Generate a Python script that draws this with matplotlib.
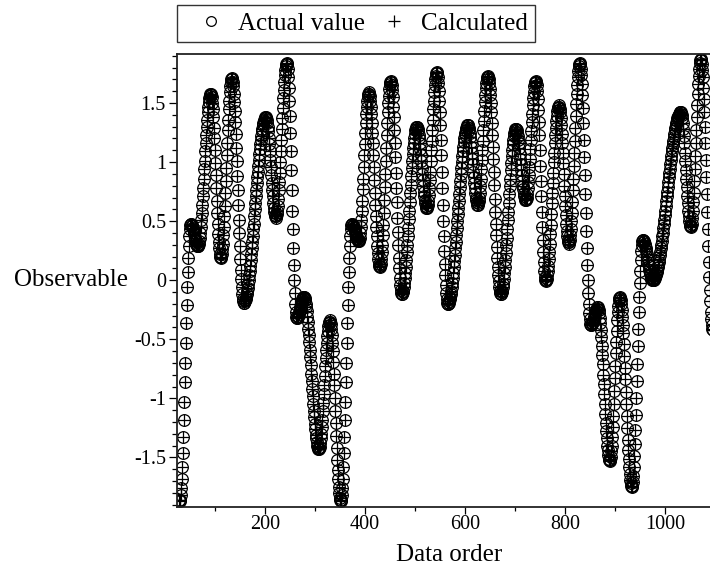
#!/usr/bin/env python3
"""Actual vs calculated observable over the data order (Maple-style scatter)."""
import numpy as np
import matplotlib

matplotlib.use("Agg")
import matplotlib.pyplot as plt
from matplotlib.lines import Line2D
from matplotlib.ticker import MultipleLocator, FuncFormatter

# data order of the first sample; samples follow one per order step
FIRST_ORDER = 28

# observable, one value per data order (28 .. 1095)
actual_value = [
    -1.86, -1.87,
    -1.86, -1.82, -1.76, -1.68, -1.58, -1.46, -1.33, -1.18, -1.03, -0.86, -0.70,
    -0.53, -0.36, -0.21, -0.06, 0.07, 0.19, 0.29, 0.37, 0.43, 0.47, 0.48,
    0.48, 0.47, 0.46, 0.44, 0.43, 0.41, 0.39, 0.36, 0.34, 0.33, 0.31, 0.30, 0.29, 0.29,
    0.29, 0.31, 0.33, 0.36, 0.40, 0.45, 0.51, 0.57, 0.64, 0.71, 0.78, 0.86, 0.94,
    1.01, 1.09, 1.16, 1.23, 1.30, 1.36, 1.42, 1.47, 1.51, 1.54, 1.56, 1.58, 1.58,
    1.57, 1.55, 1.50, 1.45, 1.38, 1.29, 1.20, 1.10, 0.99, 0.89,
    0.78, 0.67, 0.57, 0.48, 0.39, 0.32, 0.27, 0.22, 0.20, 0.19,
    0.20, 0.22, 0.26, 0.31, 0.38, 0.45, 0.54, 0.63, 0.74, 0.84, 0.95,
    1.06, 1.16, 1.27, 1.36, 1.45, 1.52, 1.59, 1.64, 1.68, 1.70, 1.71,
    1.70, 1.68, 1.64, 1.58, 1.51, 1.43, 1.34, 1.24, 1.12, 1.01, 0.88, 0.76,
    0.64, 0.51, 0.40, 0.29, 0.18, 0.09, 0.01, -0.06, -0.12, -0.16, -0.18, -0.19,
    -0.19, -0.18, -0.17, -0.16, -0.14, -0.12, -0.09, -0.07, -0.03, 0.00, 0.04,
    0.08, 0.12, 0.17, 0.22, 0.27, 0.32, 0.37, 0.43, 0.48, 0.54, 0.60,
    0.65, 0.71, 0.76, 0.82, 0.87, 0.92, 0.97, 1.02, 1.07, 1.11, 1.15,
    1.19, 1.22, 1.26, 1.28, 1.31, 1.33, 1.35, 1.36, 1.37, 1.38, 1.38,
    1.37, 1.36, 1.33, 1.30, 1.26, 1.20, 1.15, 1.09, 1.02, 0.96,
    0.89, 0.82, 0.76, 0.71, 0.65, 0.61, 0.58, 0.55, 0.54, 0.53,
    0.54, 0.56, 0.59, 0.63, 0.69, 0.76, 0.83, 0.91, 1.00, 1.09, 1.19,
    1.28, 1.37, 1.46, 1.54, 1.61, 1.68, 1.74, 1.78, 1.81, 1.83, 1.84,
    1.83, 1.79, 1.72, 1.63, 1.52, 1.39, 1.25, 1.09, 0.93, 0.76,
    0.59, 0.43, 0.27, 0.13, 0.00, -0.11, -0.20, -0.27, -0.31, -0.32,
    -0.32, -0.31, -0.30, -0.29, -0.27, -0.25, -0.23, -0.21, -0.19, -0.17, -0.16, -0.15, -0.14, -0.14,
    -0.14, -0.15, -0.17, -0.20, -0.23, -0.26, -0.31, -0.35, -0.41, -0.46,
    -0.52, -0.59, -0.65, -0.72, -0.79, -0.85, -0.92, -0.98, -1.05, -1.11,
    -1.16, -1.22, -1.26, -1.31, -1.34, -1.37, -1.40, -1.42, -1.43, -1.43,
    -1.42, -1.41, -1.38, -1.34, -1.30, -1.24, -1.18, -1.11, -1.04, -0.96, -0.89,
    -0.81, -0.73, -0.66, -0.59, -0.53, -0.47, -0.43, -0.39, -0.36, -0.35, -0.34,
    -0.35, -0.37, -0.41, -0.46, -0.53, -0.60, -0.69, -0.79, -0.89, -1.00, -1.11,
    -1.21, -1.32, -1.42, -1.52, -1.61, -1.68, -1.75, -1.80, -1.84, -1.86, -1.87,
    -1.86, -1.82, -1.76, -1.68, -1.58, -1.46, -1.33, -1.18, -1.03, -0.86, -0.70,
    -0.53, -0.36, -0.21, -0.06, 0.07, 0.19, 0.29, 0.37, 0.43, 0.47, 0.48,
    0.48, 0.47, 0.46, 0.45, 0.44, 0.42, 0.41, 0.39, 0.37, 0.36, 0.35, 0.34, 0.33, 0.33,
    0.34, 0.36, 0.40, 0.45, 0.51, 0.59, 0.67, 0.77, 0.86, 0.96,
    1.06, 1.15, 1.25, 1.33, 1.41, 1.47, 1.52, 1.56, 1.58, 1.59,
    1.58, 1.56, 1.52, 1.47, 1.41, 1.33, 1.25, 1.16, 1.06, 0.96, 0.85,
    0.74, 0.64, 0.54, 0.45, 0.37, 0.29, 0.23, 0.18, 0.14, 0.12, 0.11,
    0.12, 0.14, 0.18, 0.24, 0.30, 0.38, 0.47, 0.57, 0.68, 0.79, 0.90,
    1.01, 1.12, 1.23, 1.33, 1.42, 1.50, 1.56, 1.62, 1.66, 1.68, 1.69,
    1.68, 1.65, 1.61, 1.55, 1.47, 1.38, 1.27, 1.16, 1.04, 0.91, 0.78,
    0.66, 0.53, 0.41, 0.30, 0.19, 0.10, 0.02, -0.04, -0.08, -0.11, -0.12,
    -0.12, -0.10, -0.09, -0.06, -0.02, 0.02, 0.06, 0.11, 0.17, 0.24,
    0.30, 0.37, 0.44, 0.52, 0.59, 0.66, 0.74, 0.81, 0.88, 0.95,
    1.01, 1.07, 1.12, 1.16, 1.20, 1.24, 1.27, 1.28, 1.30, 1.30,
    1.30, 1.28, 1.26, 1.23, 1.20, 1.16, 1.11, 1.06, 1.01, 0.95,
    0.90, 0.85, 0.80, 0.75, 0.71, 0.68, 0.65, 0.63, 0.61, 0.61,
    0.62, 0.64, 0.67, 0.72, 0.78, 0.85, 0.92, 1.01, 1.10, 1.18,
    1.27, 1.36, 1.45, 1.52, 1.59, 1.65, 1.70, 1.73, 1.75, 1.76,
    1.75, 1.72, 1.67, 1.60, 1.52, 1.42, 1.31, 1.19, 1.06, 0.92, 0.78,
    0.64, 0.50, 0.37, 0.25, 0.14, 0.04, -0.04, -0.11, -0.16, -0.19, -0.20,
    -0.20, -0.19, -0.18, -0.16, -0.14, -0.12, -0.09, -0.06, -0.02, 0.02,
    0.06, 0.11, 0.16, 0.21, 0.27, 0.32, 0.38, 0.44, 0.50, 0.56,
    0.61, 0.67, 0.73, 0.79, 0.84, 0.90, 0.95, 1.00, 1.05, 1.09,
    1.13, 1.17, 1.20, 1.23, 1.25, 1.27, 1.29, 1.30, 1.31, 1.31,
    1.31, 1.29, 1.27, 1.25, 1.21, 1.17, 1.13, 1.08, 1.03, 0.98,
    0.92, 0.87, 0.82, 0.78, 0.74, 0.70, 0.68, 0.66, 0.64, 0.64,
    0.65, 0.67, 0.70, 0.74, 0.80, 0.86, 0.94, 1.02, 1.10, 1.18,
    1.27, 1.35, 1.43, 1.51, 1.57, 1.63, 1.67, 1.70, 1.72, 1.73,
    1.72, 1.70, 1.67, 1.62, 1.57, 1.50, 1.42, 1.33, 1.23, 1.13, 1.03, 0.92, 0.81,
    0.69, 0.58, 0.48, 0.38, 0.28, 0.19, 0.11, 0.04, -0.01, -0.06, -0.09, -0.11, -0.12,
    -0.12, -0.10, -0.09, -0.06, -0.03, 0.01, 0.06, 0.11, 0.17, 0.23,
    0.30, 0.36, 0.43, 0.51, 0.58, 0.65, 0.73, 0.80, 0.86, 0.93,
    0.99, 1.05, 1.10, 1.15, 1.19, 1.22, 1.25, 1.26, 1.28, 1.28,
    1.28, 1.27, 1.25, 1.22, 1.19, 1.16, 1.12, 1.07, 1.03, 0.98,
    0.93, 0.89, 0.84, 0.80, 0.77, 0.74, 0.71, 0.69, 0.68, 0.68,
    0.69, 0.70, 0.73, 0.78, 0.83, 0.89, 0.96, 1.03, 1.11, 1.19,
    1.26, 1.34, 1.41, 1.48, 1.54, 1.59, 1.64, 1.67, 1.68, 1.69,
    1.68, 1.65, 1.60, 1.53, 1.44, 1.34, 1.23, 1.10, 0.97, 0.84,
    0.71, 0.58, 0.45, 0.34, 0.24, 0.15, 0.08, 0.03, 0.00, -0.01,
    0.00, 0.01, 0.04, 0.08, 0.12, 0.18, 0.24, 0.31, 0.39, 0.47, 0.56, 0.65, 0.74,
    0.82, 0.91, 1.00, 1.08, 1.16, 1.23, 1.29, 1.35, 1.39, 1.43, 1.46, 1.47, 1.48,
    1.47, 1.45, 1.42, 1.37, 1.31, 1.24, 1.16, 1.08, 0.99, 0.90,
    0.80, 0.71, 0.63, 0.55, 0.48, 0.42, 0.37, 0.34, 0.32, 0.31,
    0.32, 0.34, 0.38, 0.43, 0.50, 0.57, 0.66, 0.76, 0.86, 0.97, 1.08,
    1.18, 1.29, 1.39, 1.49, 1.58, 1.65, 1.72, 1.77, 1.81, 1.83, 1.84,
    1.83, 1.79, 1.74, 1.66, 1.57, 1.46, 1.33, 1.19, 1.04, 0.89, 0.73,
    0.57, 0.42, 0.27, 0.13, 0.00, -0.11, -0.20, -0.28, -0.33, -0.37, -0.38,
    -0.38, -0.37, -0.36, -0.35, -0.34, -0.32, -0.31, -0.29, -0.27, -0.26, -0.25, -0.24, -0.23, -0.23,
    -0.24, -0.25, -0.28, -0.32, -0.36, -0.42, -0.48, -0.56, -0.63, -0.71, -0.80, -0.88,
    -0.96, -1.05, -1.13, -1.21, -1.28, -1.34, -1.40, -1.44, -1.48, -1.51, -1.52, -1.53,
    -1.52, -1.50, -1.45, -1.40, -1.33, -1.24, -1.15, -1.05, -0.94, -0.83,
    -0.73, -0.62, -0.52, -0.43, -0.34, -0.27, -0.22, -0.17, -0.15, -0.14,
    -0.15, -0.17, -0.20, -0.25, -0.31, -0.38, -0.45, -0.54, -0.64, -0.74, -0.84, -0.95,
    -1.05, -1.15, -1.25, -1.35, -1.44, -1.51, -1.58, -1.64, -1.69, -1.72, -1.74, -1.75,
    -1.74, -1.71, -1.66, -1.58, -1.49, -1.39, -1.27, -1.14, -1.00, -0.85, -0.71,
    -0.56, -0.41, -0.27, -0.14, -0.02, 0.08, 0.17, 0.25, 0.30, 0.33, 0.34,
    0.34, 0.33, 0.32, 0.31, 0.29, 0.27, 0.25, 0.22, 0.20, 0.17,
    0.14, 0.12, 0.09, 0.07, 0.05, 0.03, 0.02, 0.01, 0.00, 0.00,
    0.00, 0.00, 0.01, 0.02, 0.03, 0.04, 0.05, 0.07, 0.09, 0.11, 0.13, 0.15, 0.18, 0.21,
    0.24, 0.27, 0.30, 0.33, 0.37, 0.40, 0.44, 0.48, 0.51, 0.55, 0.59, 0.63, 0.67, 0.71,
    0.75, 0.79, 0.83, 0.87, 0.91, 0.94, 0.98, 1.02, 1.05, 1.09, 1.12, 1.15, 1.18, 1.21,
    1.24, 1.27, 1.29, 1.31, 1.33, 1.35, 1.37, 1.38, 1.39, 1.40, 1.41, 1.42, 1.42, 1.42,
    1.41, 1.40, 1.37, 1.33, 1.28, 1.22, 1.16, 1.08, 1.01, 0.93,
    0.86, 0.79, 0.71, 0.65, 0.59, 0.54, 0.50, 0.47, 0.46, 0.45,
    0.46, 0.48, 0.53, 0.59, 0.66, 0.74, 0.84, 0.94, 1.05, 1.16,
    1.27, 1.38, 1.48, 1.58, 1.66, 1.73, 1.79, 1.84, 1.86, 1.87,
    1.86, 1.83, 1.78, 1.72, 1.63, 1.53, 1.42, 1.30, 1.16, 1.02, 0.87, 0.73,
    0.58, 0.43, 0.29, 0.15, 0.03, -0.08, -0.18, -0.27, -0.33, -0.38, -0.41, -0.42,
]

# the calculated series lies on top of the actual values at this scale
calculated_value = list(actual_value)

X_TICKS = [200, 400, 600, 800, 1000]
Y_TICKS = [-1.5, -1.0, -0.5, 0.0, 0.5, 1.0, 1.5]

FONT = "Liberation Serif"
LABEL_SIZE = 18
TICK_SIZE = 14.5

plt.rcParams["font.family"] = [FONT, "DejaVu Serif"]
plt.rcParams["axes.unicode_minus"] = False

order = np.arange(FIRST_ORDER, FIRST_ORDER + len(actual_value))

fig = plt.figure(figsize=(7.1, 5.67), dpi=100)
# the frame runs on past the right edge of the picture, as in the original
ax = fig.add_axes([177 / 710, 1 - 507 / 567, (722 - 177) / 710, (507 - 54) / 567])

ax.plot(order, actual_value, linestyle="none", marker="o", markersize=8.4,
        markerfacecolor="none", markeredgecolor="black", markeredgewidth=0.9)
ax.plot(order, calculated_value, linestyle="none", marker="+", markersize=8.4,
        color="black", markeredgewidth=0.9)

ax.set_xlim(24, 1114)
ax.set_ylim(-1.92, 1.915)

ax.set_xticks(X_TICKS)
ax.xaxis.set_minor_locator(MultipleLocator(100))
ax.set_yticks(Y_TICKS)
ax.yaxis.set_minor_locator(MultipleLocator(0.1))
ax.yaxis.set_major_formatter(FuncFormatter(lambda v, _: f"{v:g}"))

ax.tick_params(axis="both", which="both", direction="out", labelsize=TICK_SIZE,
               width=0.9, color="black")
ax.tick_params(axis="y", which="major", length=6, pad=2)
ax.tick_params(axis="y", which="minor", length=3.5)
ax.tick_params(axis="x", which="major", length=5, pad=1)
ax.tick_params(axis="x", which="minor", length=3)

for side in ("left", "bottom", "top", "right"):
    ax.spines[side].set_linewidth(1.3)
    ax.spines[side].set_color("#222222")

ax.set_xlabel("Data order", fontsize=LABEL_SIZE, labelpad=7)
ax.set_ylabel("Observable", fontsize=LABEL_SIZE, rotation=0, ha="right", va="center")
ax.yaxis.set_label_coords(-0.09, 0.5)

handles = [
    Line2D([], [], linestyle="none", marker="o", markersize=7, markerfacecolor="none",
           markeredgecolor="black", markeredgewidth=0.9),
    Line2D([], [], linestyle="none", marker="+", markersize=9, color="black",
           markeredgewidth=0.9),
]
leg = fig.legend(handles, ["Actual value", "Calculated"], ncol=2,
                 loc="upper left", bbox_to_anchor=(177 / 710, 1 - 5 / 567),
                 borderaxespad=0, fontsize=LABEL_SIZE, frameon=True, fancybox=False,
                 borderpad=0.29, handlelength=2.15, handletextpad=0.0,
                 columnspacing=0.1)
leg.get_frame().set_edgecolor("black")
leg.get_frame().set_linewidth(1.0)

fig.savefig("out.png", dpi=100)
